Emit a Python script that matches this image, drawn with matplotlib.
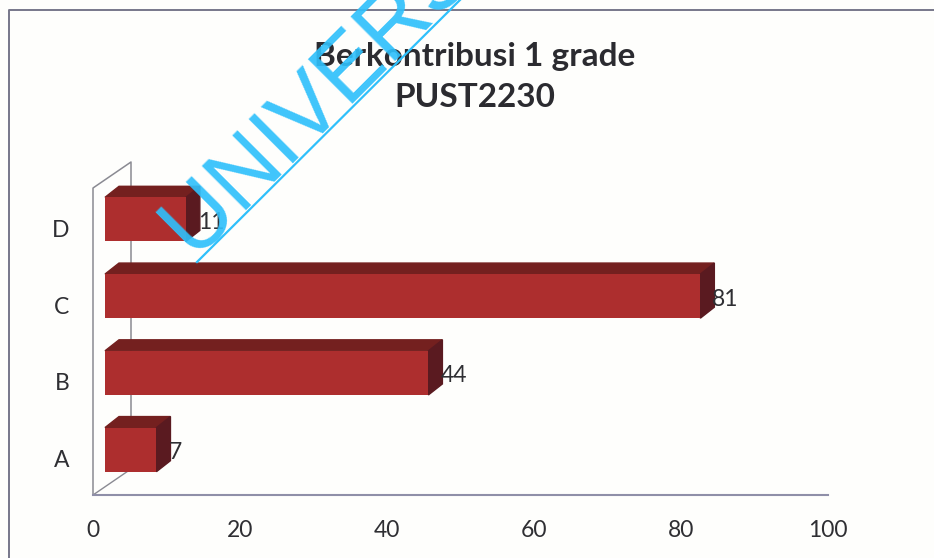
import numpy as np
import matplotlib

matplotlib.use("Agg")
import matplotlib.pyplot as plt
from matplotlib.patches import Polygon
from matplotlib.transforms import Affine2D

categories = ["A", "B", "C", "D"]
values = [7, 44, 81, 11]
x_ticks = [0, 20, 40, 60, 80, 100]
title_text = "Berkontribusi 1 grade\nPUST2230"
watermark_text = "UNIVERSITAS"

W, H = 934, 558
BAR_HEIGHT = 0.575
# 3d look, all in pixels
BAR_SHIFT = (12, 7)
BAR_DEPTH = (14, 11)
WALL_DEPTH = (38, 26)

FRONT = "#ad2e2e"
TOP = "#74201f"
SIDE = "#5a1a20"
AXIS = "#8f8fa8"
WALL = "#8a8a92"
TEXT = "#2f2f33"
FONT_SIZE = 16.5


def px_axes(fig, left, top, right, bottom):
    return fig.add_axes([left / W, 1 - bottom / H, (right - left) / W, (bottom - top) / H])


def shifted(ax, dx, dy):
    return ax.transData + Affine2D().translate(dx, dy)


def draw_bars(ax):
    y_pos = np.arange(len(categories))
    front = shifted(ax, *BAR_SHIFT)
    back = shifted(ax, BAR_SHIFT[0] + BAR_DEPTH[0], BAR_SHIFT[1] + BAR_DEPTH[1])
    ax.barh(y_pos, values, height=BAR_HEIGHT, color=FRONT, transform=front, zorder=3)

    for y, v in zip(y_pos, values):
        low, high = y - BAR_HEIGHT / 2, y + BAR_HEIGHT / 2
        p0 = front.transform([(0, high), (v, high), (v, low)])
        p1 = back.transform([(0, high), (v, high), (v, low)])
        ax.add_patch(Polygon([p0[0], p0[1], p1[1], p1[0]], closed=True, color=TOP,
                             transform=None, clip_on=False, zorder=2))
        ax.add_patch(Polygon([p0[1], p0[2], p1[2], p1[1]], closed=True, color=SIDE,
                             transform=None, clip_on=False, zorder=2))
        ax.text(v, y, str(v), transform=shifted(ax, BAR_SHIFT[0] + BAR_DEPTH[0] - 2, BAR_SHIFT[1] - 3),
                fontsize=FONT_SIZE, color=TEXT, va="center", ha="left", family="Lato", zorder=4)


def draw_walls(ax):
    ymin, ymax = ax.get_ylim()
    low, high = ax.transData.transform([(0, ymin), (0, ymax)])
    dx, dy = WALL_DEPTH
    # left wall outline and floor edge
    ax.add_line(plt.Line2D([low[0], high[0], high[0] + dx, high[0] + dx],
                           [low[1], high[1], high[1] + dy, low[1] + dy],
                           color=WALL, lw=1.1, transform=None, clip_on=False, zorder=1))
    ax.add_line(plt.Line2D([low[0], low[0] + dx], [low[1], low[1] + dy],
                           color=WALL, lw=1.0, transform=None, clip_on=False, zorder=1))


fig = plt.figure(figsize=(W / 100, H / 100), dpi=100, facecolor="#fefefc")

# outer chart frame
fig.add_artist(plt.Line2D([9 / W, 9 / W, 1], [0, 1 - 10 / H, 1 - 10 / H], color="#77778a", lw=1.4))

ax = px_axes(fig, 93, 188, 828, 495)
ax.set_xlim(0, 100)
ax.set_ylim(-0.5, 3.5)
ax.patch.set_alpha(0)
for name in ["top", "right", "left"]:
    ax.spines[name].set_visible(False)
ax.spines["bottom"].set_color(AXIS)
ax.spines["bottom"].set_linewidth(1.5)
ax.set_xticks(x_ticks)
ax.set_yticks(np.arange(len(categories)))
ax.set_yticklabels(categories)
ax.tick_params(length=0, labelsize=FONT_SIZE, labelcolor=TEXT)
ax.tick_params(axis="x", pad=18)
ax.tick_params(axis="y", pad=17)
for label in ax.get_xticklabels() + ax.get_yticklabels():
    label.set_family("Lato")
for label in ax.get_yticklabels():
    label.set_transform(label.get_transform() + Affine2D().translate(0, -2))

fig.canvas.draw()
draw_walls(ax)
draw_bars(ax)

fig.text(475 / W, 1 - 77 / H, title_text, ha="center", va="center", fontsize=24, fontweight="bold",
         family="Lato", color="#2b2b30", linespacing=1.5)

# scan watermark over everything
fig.text(193 / W, 1 - 256 / H, watermark_text, rotation=45, rotation_mode="anchor", ha="left", va="baseline",
         fontsize=65, color="#2fc0fb", alpha=0.92, family="Liberation Sans", zorder=10)
fig.add_artist(plt.Line2D([197 / W, 470 / W], [1 - 262 / H, 1 + 10 / H], color="#2fc0fb", lw=1.6, zorder=10))

fig.savefig("out.png", dpi=100, facecolor=fig.get_facecolor())
